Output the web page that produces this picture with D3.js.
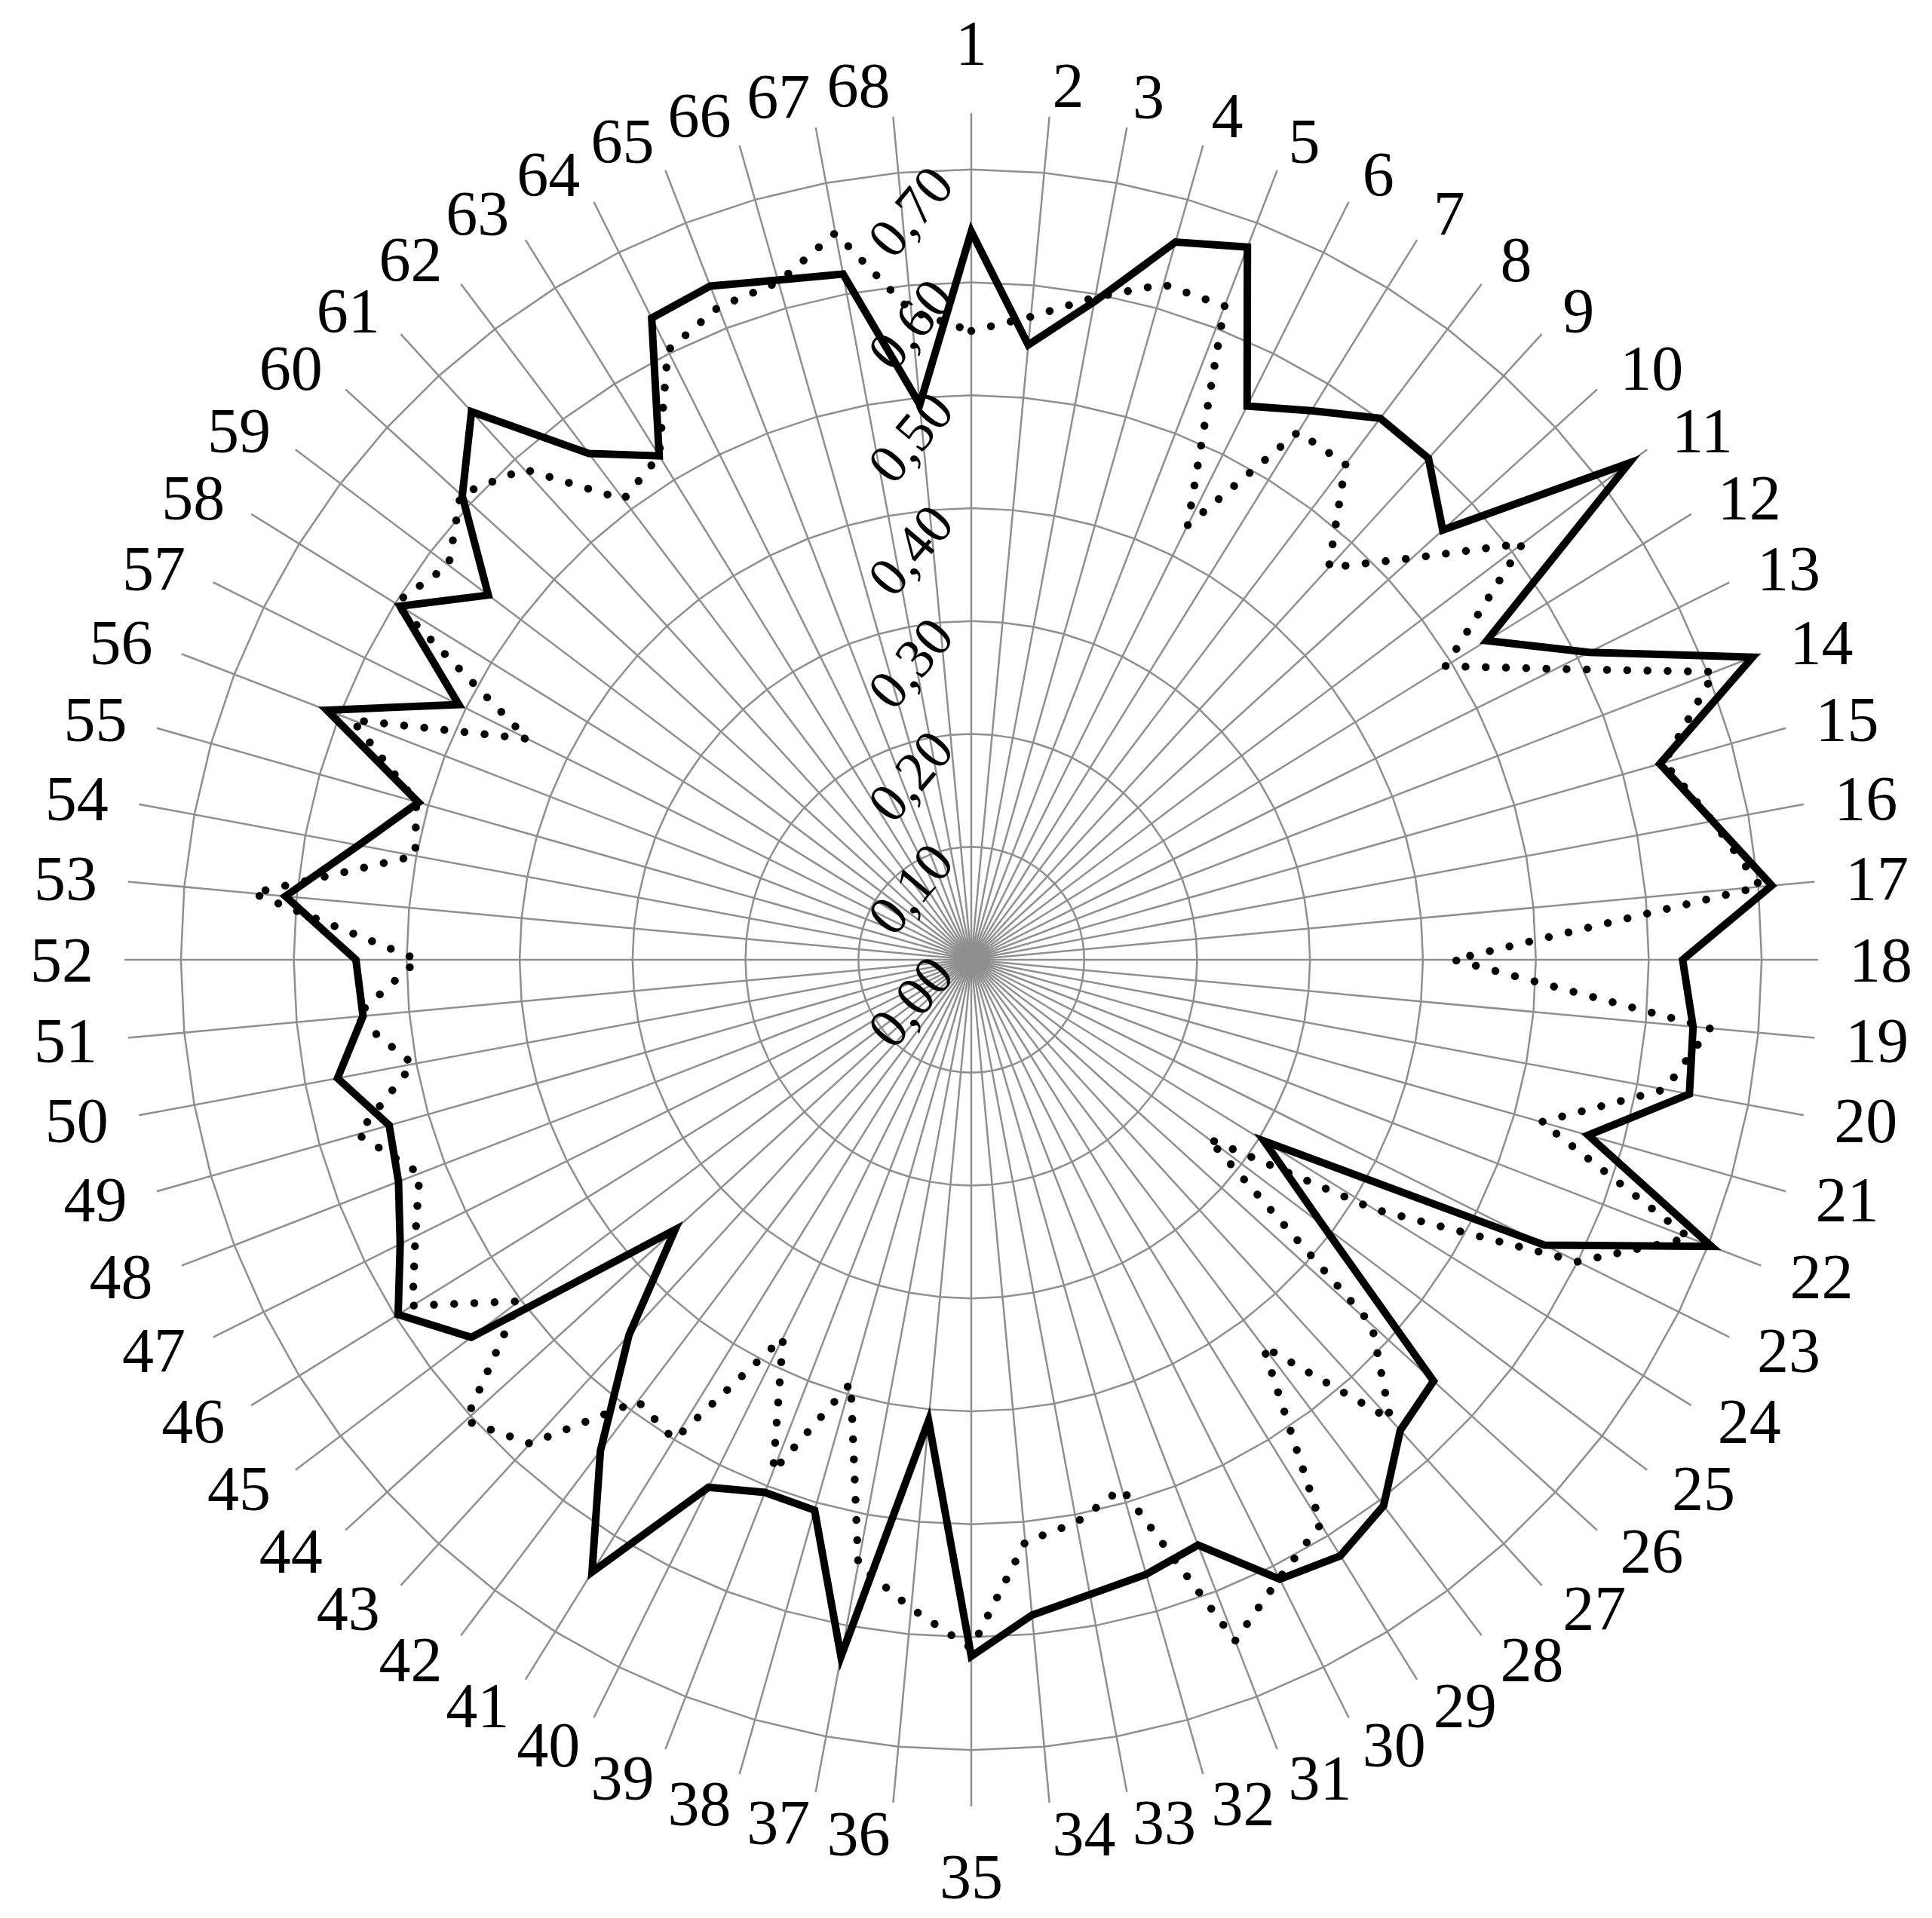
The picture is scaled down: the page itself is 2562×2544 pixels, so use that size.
<!DOCTYPE html>
<html>
<head>
<meta charset="utf-8">
<script src="https://cdn.jsdelivr.net/npm/d3@7"></script>
<style>
  html, body { margin: 0; padding: 0; background: #ffffff; }
  svg { display: block; }
</style>
</head>
<body>
<svg id="chart" width="2562" height="2544"></svg>
<script>
// ---------------- DATA ----------------
const categories = ["1","2","3","4","5","6","7","8","9","10","11","12","13","14","15","16","17",
  "18","19","20","21","22","23","24","25","26","27","28","29","30","31","32","33","34",
  "35","36","37","38","39","40","41","42","43","44","45","46","47","48","49","50","51",
  "52","53","54","55","56","57","58","59","60","61","62","63","64","65","66","67","68"];

const seriesSolid = [0.645,0.547,0.593,0.661,0.677,0.548,0.572,0.601,0.601,0.565,
  0.730,0.537,0.611,0.742,0.634,0.668,0.712,0.630,0.642,0.647,
  0.568,0.703,0.567,0.305,0.390,0.554,0.564,0.606,0.621,0.613,
  0.556,0.566,0.572,0.583,0.617,0.410,0.628,0.507,0.506,0.522,
  0.638,0.545,0.450,0.355,0.555,0.597,0.565,0.544,0.536,0.571,
  0.541,0.545,0.610,0.552,0.509,0.612,0.507,0.595,0.536,0.610,
  0.657,0.562,0.525,0.635,0.640,0.626,0.618,0.494];

const seriesDotted = [0.557,0.572,0.597,0.622,0.621,0.430,0.550,0.550,0.470,0.528,
  0.612,0.494,0.578,0.706,0.638,0.668,0.702,0.427,0.657,0.625,
  0.525,0.682,0.600,0.420,0.263,0.480,0.551,0.429,0.588,0.612,
  0.647,0.487,0.507,0.518,0.610,0.577,0.545,0.390,0.486,0.374,
  0.500,0.490,0.580,0.606,0.502,0.582,0.550,0.524,0.565,0.503,
  0.548,0.490,0.639,0.501,0.511,0.588,0.439,0.600,0.580,0.612,
  0.588,0.511,0.525,0.603,0.620,0.624,0.655,0.577];

const tickValues = [0.0, 0.1, 0.2, 0.3, 0.4, 0.5, 0.6, 0.7];
const tickLabels = ["0,00","0,10","0,20","0,30","0,40","0,50","0,60","0,70"];
const axisMax = 0.75;

// ---------------- LAYOUT ----------------
const W = 2562, H = 2544;
const cx = 1288, cy = 1273;
const R = 1123;
const labelR = 1164;
const gridColor = "#8f8f8f";
const fontFamily = "'Liberation Serif', 'Times New Roman', serif";

const svg = d3.select("#chart");
svg.append("rect").attr("width", W).attr("height", H).attr("fill", "#ffffff");
const g = svg.append("g").attr("transform", `translate(${cx},${cy})`);

const angle = d3.scaleBand().domain(categories).range([0, 2 * Math.PI]).paddingInner(0).paddingOuter(0).align(0);
const radius = d3.scaleLinear().domain([0, axisMax]).range([0, R]);

// rings
const ringLine = d3.lineRadial()
  .angle(d => angle(d))
  .curve(d3.curveLinearClosed);
g.append("g").selectAll("path")
  .data(tickValues.filter(v => v > 0))
  .join("path")
  .attr("d", v => ringLine.radius(radius(v))(categories))
  .attr("fill", "none")
  .attr("stroke", gridColor)
  .attr("stroke-width", 2.5);

// spokes
g.append("g").selectAll("line")
  .data(categories)
  .join("line")
  .attr("x1", 0).attr("y1", 0)
  .attr("x2", c => radius(axisMax) * Math.sin(angle(c)))
  .attr("y2", c => -radius(axisMax) * Math.cos(angle(c)))
  .attr("stroke", gridColor)
  .attr("stroke-width", 2.5);

// series
const seriesLine = d3.lineRadial()
  .angle((d, i) => angle(categories[i]))
  .radius(d => radius(d))
  .curve(d3.curveLinearClosed);

g.append("path")
  .attr("d", seriesLine(seriesSolid))
  .attr("fill", "none")
  .attr("stroke", "#000")
  .attr("stroke-width", 10)
  .attr("stroke-linejoin", "miter")
  .attr("stroke-miterlimit", 10);

g.append("path")
  .attr("d", seriesLine(seriesDotted))
  .attr("fill", "none")
  .attr("stroke", "#000")
  .attr("stroke-width", 10.5)
  .attr("stroke-linecap", "round")
  .attr("stroke-dasharray", "0.01 26.8");

// category labels (Excel-like anchoring: left/right middle on the sides, centred at top/bottom)
const eps = 1e-6;
g.append("g").selectAll("text")
  .data(categories)
  .join("text")
  .attr("font-family", fontFamily)
  .attr("font-size", 84)
  .attr("fill", "#000")
  .attr("dominant-baseline", "central")
  .text(c => c)
  .each(function(c) {
    const a = angle(c);
    const px = labelR * Math.sin(a);
    const py = -labelR * Math.cos(a);
    const sel = d3.select(this);
    if (Math.abs(a) < eps) {
      sel.attr("text-anchor", "middle").attr("x", px).attr("y", py - 52);
    } else if (Math.abs(a - Math.PI) < eps) {
      sel.attr("text-anchor", "middle").attr("x", px).attr("y", py + 52);
    } else if (a < Math.PI) {
      sel.attr("text-anchor", "start").attr("x", px).attr("y", py);
    } else {
      sel.attr("text-anchor", "end").attr("x", px).attr("y", py);
    }
  });

// tick labels (rotated)
g.append("g").selectAll("text")
  .data(tickValues)
  .join("text")
  .attr("transform", (v) => `translate(${-20},${-radius(v) + 22}) rotate(-50)`)
  .attr("text-anchor", "end")
  .attr("font-family", fontFamily)
  .attr("font-size", 74)
  .attr("fill", "#000")
  .text((v, i) => tickLabels[i]);
</script>
</body>
</html>
